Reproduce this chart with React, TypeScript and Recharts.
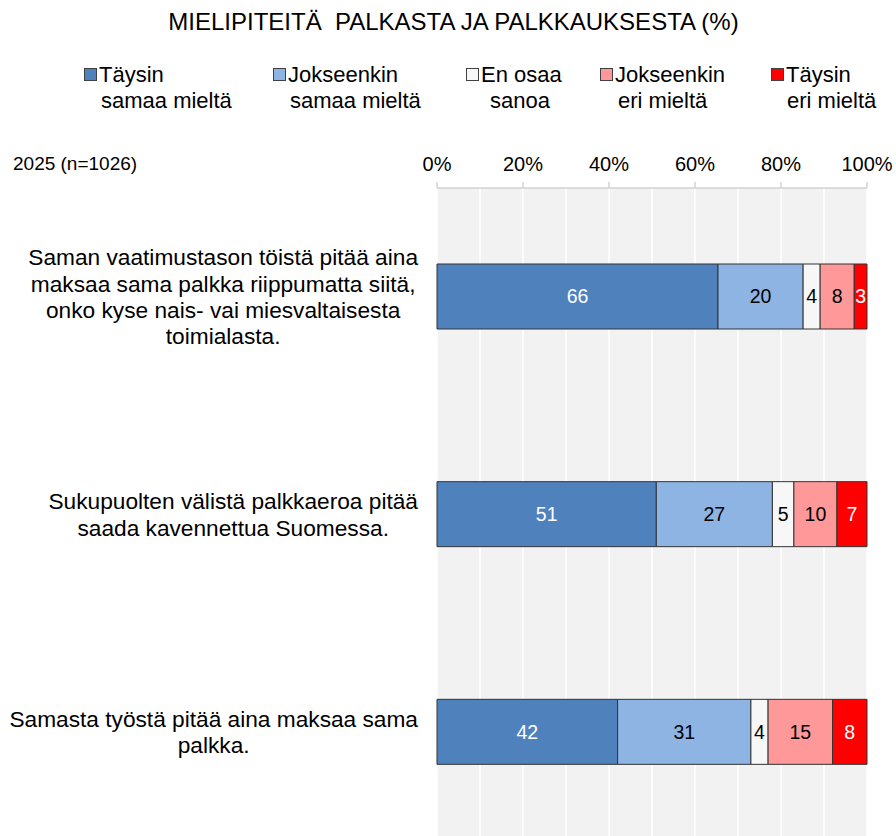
import React from "react";
import { BarChart, Bar, XAxis, YAxis, CartesianGrid, LabelList } from "recharts";

const title = "MIELIPITEITÄ  PALKASTA JA PALKKAUKSESTA (%)";
const sampleLabel = "2025 (n=1026)";

const categories: string[][] = [
  ["Saman vaatimustason töistä pitää aina", "maksaa sama palkka riippumatta siitä,", "onko kyse nais- vai miesvaltaisesta", "toimialasta."],
  ["Sukupuolten välistä palkkaeroa pitää", "saada kavennettua Suomessa."],
  ["Samasta työstä pitää aina maksaa sama", "palkka."],
];

const seriesKeys = ["taysinSamaa", "jokseenkinSamaa", "enOsaa", "jokseenkinEri", "taysinEri"];
const seriesNames: string[][] = [
  ["Täysin", "samaa mieltä"],
  ["Jokseenkin", "samaa mieltä"],
  ["En osaa", "sanoa"],
  ["Jokseenkin", "eri mieltä"],
  ["Täysin", "eri mieltä"],
];
const seriesColors = ["#4F81BD", "#8EB4E3", "#F7F7F7", "#FF9999", "#FF0000"];
const labelColors = ["#FFFFFF", "#000000", "#000000", "#000000", "#FFFFFF"];

const taysinSamaa = [66, 51, 42];
const jokseenkinSamaa = [20, 27, 31];
const enOsaa = [4, 5, 4];
const jokseenkinEri = [8, 10, 15];
const taysinEri = [3, 7, 8];

const xTicks = [0, 0.2, 0.4, 0.6, 0.8, 1];
const gridSteps = [0, 0.1, 0.2, 0.3, 0.4, 0.5, 0.6, 0.7, 0.8, 0.9, 1];

const data = categories.map((lines, i) => ({
  name: lines.join("\n"),
  taysinSamaa: taysinSamaa[i],
  jokseenkinSamaa: jokseenkinSamaa[i],
  enOsaa: enOsaa[i],
  jokseenkinEri: jokseenkinEri[i],
  taysinEri: taysinEri[i],
}));

const FONT = "'Liberation Sans', Arial, sans-serif";
const CAT_FONT_SIZE = 22.7;

let measureCtx: CanvasRenderingContext2D | null = null;
function measure(text: string, size: number): number {
  if (!measureCtx) {
    const c = document.createElement("canvas");
    measureCtx = c.getContext("2d");
  }
  if (!measureCtx) return text.length * size * 0.5;
  measureCtx.font = `${size}px ${FONT}`;
  return measureCtx.measureText(text).width;
}

const CategoryTick = (props: any) => {
  const { x, y, payload } = props;
  const lines: string[] = String(payload.value).split("\n");
  const maxW = Math.max(...lines.map((l) => measure(l, CAT_FONT_SIZE)));
  const cx = x - maxW / 2;
  const lh = 26.3;
  const startY = y - ((lines.length - 1) * lh) / 2;
  return (
    <g>
      {lines.map((l, i) => (
        <text key={i} x={cx} y={startY + i * lh} dy="0.35em" textAnchor="middle" fontSize={CAT_FONT_SIZE} fill="#000" fontFamily={FONT}>
          {l}
        </text>
      ))}
    </g>
  );
};

const legendPos = [
  { sq: 84, t1: 99, t2: 101 },
  { sq: 273, t1: 288, t2: 290 },
  { sq: 466, t1: 481, t2: 490 },
  { sq: 600, t1: 615, t2: 618 },
  { sq: 771, t1: 786, t2: 787 },
];

const LegendBlock = () => (
  <div style={{ position: "absolute", left: 0, top: 62, width: 896, height: 60, fontFamily: FONT, fontSize: 22, color: "#000" }}>
    {seriesNames.map((nm, i) => (
      <React.Fragment key={i}>
        <div style={{ position: "absolute", left: legendPos[i].sq, top: 6, width: 11, height: 11, background: seriesColors[i], border: "1px solid #404040" }} />
        <div style={{ position: "absolute", left: legendPos[i].t1, top: 0, lineHeight: "25px", whiteSpace: "nowrap" }}>{nm[0]}</div>
        <div style={{ position: "absolute", left: legendPos[i].t2, top: 26, lineHeight: "25px", whiteSpace: "nowrap" }}>{nm[1]}</div>
      </React.Fragment>
    ))}
  </div>
);

const gridGenerator = (props: any) => {
  const off = props.offset || {};
  const left = off.left ?? 437;
  const w = off.width ?? 430;
  return gridSteps.map((v) => left + v * w);
};

export default function App() {
  return (
    <div style={{ position: "absolute", left: 0, top: 0, width: 896, height: 836, overflow: "hidden", background: "#fff", fontFamily: FONT }}>
      <div style={{ position: "absolute", left: 0, top: 8, width: 907, textAlign: "center", fontSize: 24, lineHeight: "28px", color: "#000", whiteSpace: "pre" }}>{title}</div>
      <LegendBlock />
      <div style={{ position: "absolute", left: 13, top: 153, fontSize: 19, lineHeight: "22px", color: "#000", whiteSpace: "nowrap" }}>{sampleLabel}</div>
      <div style={{ position: "absolute", left: 0, top: 0 }}>
        <BarChart
          width={896}
          height={841}
          data={data}
          layout="vertical"
          stackOffset="expand"
          margin={{ top: 158, right: 29, bottom: 0, left: 0 }}
          barCategoryGap={0}
        >
          <CartesianGrid
            horizontal={false}
            fill="#F2F2F2"
            fillOpacity={1}
            stroke="#FFFFFF"
            strokeWidth={1.5}
            verticalCoordinatesGenerator={gridGenerator}
          />
          <XAxis
            type="number"
            orientation="top"
            height={30}
            domain={[0, 1]}
            ticks={xTicks}
            tickFormatter={(v: number) => `${Math.round(v * 100)}%`}
            tick={{ fill: "#000", fontSize: 20, fontFamily: FONT }}
            tickSize={6}
            tickMargin={11}
            stroke="#BFBFBF"
            interval={0}
          />
          <YAxis
            type="category"
            dataKey="name"
            width={437}
            axisLine={false}
            tickLine={false}
            tickSize={0}
            tickMargin={19}
            tick={<CategoryTick />}
          />
          {seriesKeys.map((k, i) => (
            <Bar key={k} dataKey={k} stackId="a" fill={seriesColors[i]} stroke="#333333" strokeWidth={1} barSize={65} isAnimationActive={false}>
              <LabelList dataKey={k} position="center" fill={labelColors[i]} fontSize={19.5} fontFamily={FONT} />
            </Bar>
          ))}
        </BarChart>
      </div>
    </div>
  );
}
